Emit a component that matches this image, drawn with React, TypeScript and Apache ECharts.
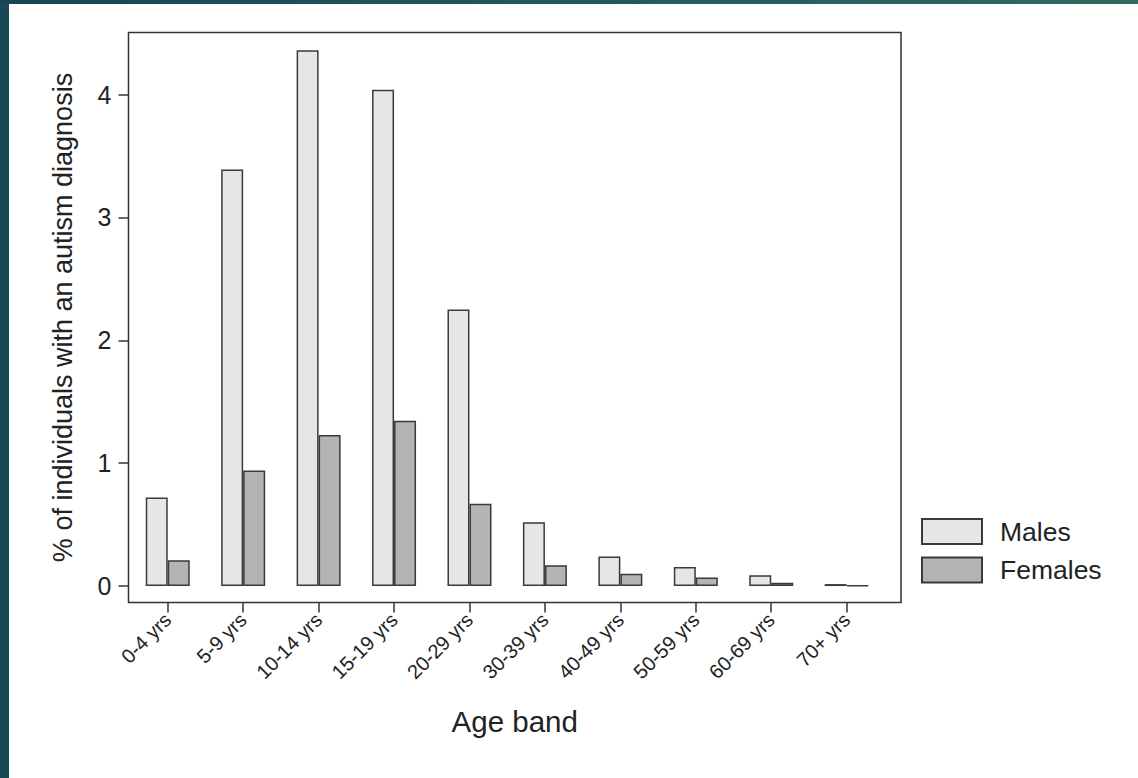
import React, { useEffect, useRef } from "react";
import * as echarts from "echarts";

const ageBands = ["0-4 yrs", "5-9 yrs", "10-14 yrs", "15-19 yrs", "20-29 yrs", "30-39 yrs", "40-49 yrs", "50-59 yrs", "60-69 yrs", "70+ yrs"];
const males = [0.72, 3.39, 4.36, 4.04, 2.25, 0.52, 0.24, 0.155, 0.088, 0.016];
const females = [0.21, 0.94, 1.23, 1.345, 0.67, 0.17, 0.10, 0.07, 0.027, 0.005];
const yTicks = [0, 1, 2, 3, 4];
const xTicks = ageBands.map((_, i) => i);

const FONT = "'Liberation Sans', Arial, sans-serif";

export default function App() {
  const ref = useRef<HTMLDivElement>(null);
  useEffect(() => {
    if (!ref.current) return;
    const chart = echarts.init(ref.current, undefined, { renderer: "svg" });
    const barStyle = (color: string) => ({ color, borderColor: "#3a3a3a", borderWidth: 1.5 });
    chart.setOption({
      animation: false,
      backgroundColor: "#ffffff",
      textStyle: { fontFamily: FONT },
      graphic: [
        { type: "rect", left: 0, top: 0, shape: { width: 9, height: 778 }, style: { fill: "#184956" }, z: 100 },
        {
          type: "rect", left: 0, top: 0, shape: { width: 1138, height: 4 }, z: 100,
          style: {
            fill: new echarts.graphic.LinearGradient(0, 0, 1, 0, [
              { offset: 0, color: "#174555" },
              { offset: 1, color: "#2e6b60" },
            ]),
          },
        },
      ],
      grid: {
        left: 128.5, top: 32.5, width: 772.5, height: 570,
        show: true, borderColor: "#333333", borderWidth: 1.5, backgroundColor: "transparent",
      },
      legend: {
        data: ["Males", "Females"],
        orient: "vertical",
        left: 916, top: 513,
        itemWidth: 60, itemHeight: 25, itemGap: 11.5,
        icon: "rect",
        textStyle: { fontSize: 26.5, color: "#222222", fontFamily: FONT, padding: [0, 0, 0, 13] },
      },
      xAxis: {
        type: "value",
        min: -0.52, max: 9.72,
        name: "Age band",
        nameLocation: "middle",
        nameGap: 104,
        nameTextStyle: { fontSize: 29.5, color: "#222222", fontFamily: FONT },
        axisLine: { show: false, onZero: false },
        splitLine: { show: false },
        axisTick: { show: true, customValues: xTicks, length: 10, inside: false, lineStyle: { color: "#333333", width: 1.5 } },
        axisLabel: {
          customValues: xTicks,
          formatter: (v: number) => ageBands[Math.round(v)] ?? "",
          rotate: 45, margin: 14, fontSize: 20, color: "#222222", fontFamily: FONT,
        },
      },
      yAxis: {
        type: "value",
        min: -0.134, max: 4.505,
        name: "% of individuals with an autism diagnosis",
        nameLocation: "middle",
        nameRotate: 90,
        nameGap: 52,
        nameTextStyle: { fontSize: 27, color: "#222222", fontFamily: FONT },
        axisLine: { show: false, onZero: false },
        splitLine: { show: false },
        axisTick: { show: true, customValues: yTicks, length: 10, inside: false, lineStyle: { color: "#333333", width: 1.5 } },
        axisLabel: { customValues: yTicks, margin: 17, fontSize: 25, color: "#222222", fontFamily: FONT },
      },
      series: [
        {
          name: "Males", type: "bar", barWidth: 22, barGap: "0%",
          data: males.map((v, i) => [i, v]),
          itemStyle: barStyle("#e6e6e6"),
        },
        {
          name: "Females", type: "bar", barWidth: 22, barGap: "0%",
          data: females.map((v, i) => [i, v]),
          itemStyle: barStyle("#b3b3b3"),
        },
      ],
    });
    return () => chart.dispose();
  }, []);
  return <div ref={ref} style={{ position: "absolute", left: 0, top: 0, width: 1138, height: 778 }} />;
}
